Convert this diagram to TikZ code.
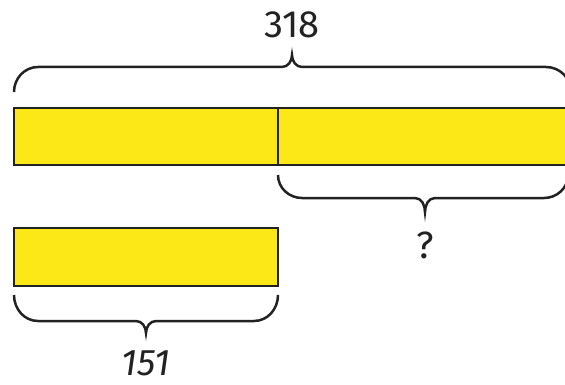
\documentclass[tikz,border=0pt]{standalone}
\usepackage{fontspec}
\setmainfont{Fira Sans}
\definecolor{baryellow}{HTML}{FCE817}
\definecolor{ink}{HTML}{222222}
\begin{document}
\begin{tikzpicture}[x=1pt,y=-1pt,
  bar/.style={draw=ink,fill=baryellow,line width=2.8pt,line join=miter},
  brace/.style={draw=ink,line width=2.5pt,line cap=butt},
  lab/.style={text=ink,font=\fontsize{38}{42}\selectfont\addfontfeatures{Numbers=Lining},inner sep=0pt}]
\useasboundingbox (0,0) rectangle (565,385);
% bars
\draw[bar] (14,108) rectangle (575,165);
\draw[ink,line width=2.2pt] (278,108) -- (278,165);
\draw[bar] (14,228) rectangle (278,286);
% top brace
\draw[brace] (14,92) to[out=90,in=180] (38,67) -- (282,67)
  to[out=0,in=-90] (292,55) to[out=-90,in=180] (302,67) -- (546,67)
  to[out=0,in=90] (571,92);
% middle brace
\draw[brace] (278,175) to[out=-90,in=180] (302,198) -- (415,198)
  to[out=0,in=90] (425,212) to[out=90,in=180] (435,198) -- (544,198)
  to[out=0,in=-90] (568,175);
% bottom brace
\draw[brace] (14,295) to[out=-90,in=180] (38,321) -- (136,321)
  to[out=0,in=90] (146,333) to[out=90,in=180] (156,321) -- (254,321)
  to[out=0,in=-90] (278,295);
% labels
\node[lab] (total) at (292,25) {318};
\node[lab] (unknown) at (425,245) {?};
\node[lab,font=\fontsize{37}{42}\selectfont\itshape] (part) at (146,363) {151};
\end{tikzpicture}
\end{document}
